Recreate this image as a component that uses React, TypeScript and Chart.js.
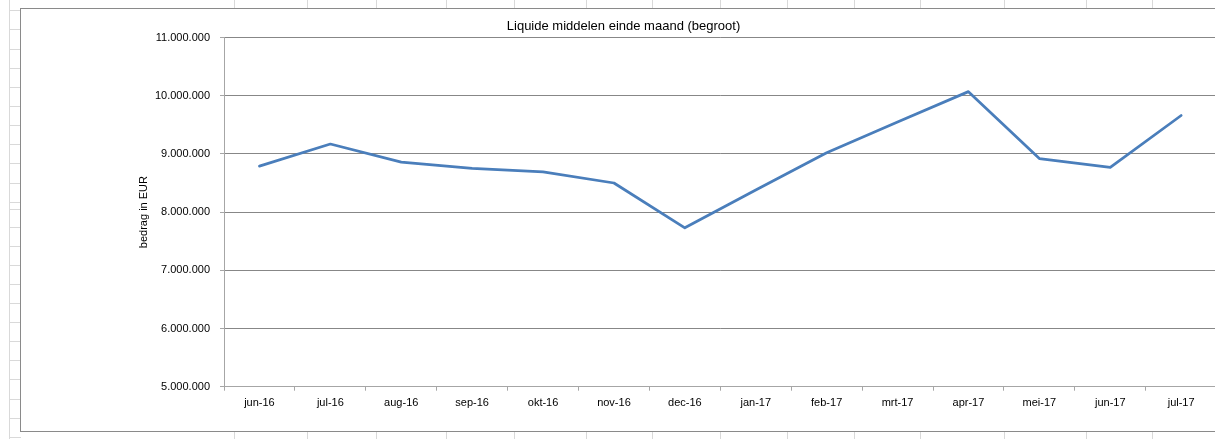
import React, { useEffect, useRef } from "react";
import { Chart, registerables } from "chart.js";

Chart.register(...registerables);

const categories = [
  "jun-16", "jul-16", "aug-16", "sep-16", "okt-16", "nov-16", "dec-16",
  "jan-17", "feb-17", "mrt-17", "apr-17", "mei-17", "jun-17", "jul-17",
];
const liquideMiddelen = [
  8790000, 9170000, 8860000, 8750000, 8690000, 8500000, 7730000,
  8380000, 9020000, 9550000, 10070000, 8920000, 8770000, 9660000,
];
const yMin = 5000000;
const yMax = 11000000;
const yStep = 1000000;
const chartTitle = "Liquide middelen einde maand (begroot)";
const yAxisTitle = "bedrag in EUR";

// spreadsheet background decoration
const sheetCols = [234, 307, 376, 446, 514, 586, 652, 720, 787, 854, 920, 1004, 1086, 1152];
const sheetRows = [10, 29, 49, 68, 87, 106, 125, 144, 163, 183, 202, 209, 227, 246, 265, 284, 303, 322, 341, 360, 379, 399, 418, 437];

function fmtNl(v: number): string {
  return String(Math.round(v)).replace(/\B(?=(\d{3})+(?!\d))/g, ".");
}

const FONT = "'Liberation Sans', Arial, sans-serif";

export default function App() {
  const ref = useRef<HTMLCanvasElement | null>(null);

  useEffect(() => {
    if (!ref.current) return;
    const chart = new Chart(ref.current, {
      type: "line",
      data: {
        labels: categories,
        datasets: [
          {
            label: chartTitle,
            data: liquideMiddelen,
            borderColor: "#4A7EBB",
            backgroundColor: "#4A7EBB",
            borderWidth: 2.75,
            pointRadius: 0,
            pointHoverRadius: 0,
            tension: 0,
            borderJoinStyle: "round",
            borderCapStyle: "round",
          },
        ],
      },
      options: {
        responsive: false,
        animation: false,
        devicePixelRatio: 1,
        layout: { padding: { left: 9.4, right: 9.4, top: 0, bottom: 0 } },
        plugins: {
          legend: { display: false },
          tooltip: { enabled: false },
          title: {
            display: true,
            text: chartTitle,
            color: "#000",
            font: { family: FONT, size: 13, weight: "normal", lineHeight: 1.2 },
            padding: { top: 9.9, bottom: 3.0 },
          },
        },
        scales: {
          x: {
            type: "category",
            offset: true,
            afterFit: (s: any) => {
              s.height = 44.3;
            },
            grid: {
              offset: true,
              drawOnChartArea: false,
              drawTicks: true,
              tickLength: 4,
              tickColor: "#A6A6A6",
              color: "#A6A6A6",
            },
            border: { display: true, color: "#A6A6A6", width: 1 },
            ticks: {
              color: "#000",
              font: { family: FONT, size: 11 },
              padding: 5.2,
              maxRotation: 0,
              autoSkip: false,
            },
          },
          y: {
            min: yMin,
            max: yMax,
            afterFit: (s: any) => {
              s.width = 193.6;
            },
            grid: {
              color: "#878787",
              lineWidth: 1,
              drawTicks: true,
              tickLength: 4,
              tickColor: "#A6A6A6",
            },
            border: { display: true, color: "#A6A6A6", width: 1 },
            ticks: {
              stepSize: yStep,
              color: "#000",
              font: { family: FONT, size: 11 },
              padding: 10,
              callback: (v: any) => fmtNl(Number(v)),
            },
            title: {
              display: true,
              text: yAxisTitle,
              color: "#000",
              font: { family: FONT, size: 11, lineHeight: 1.2 },
              padding: { top: 107, bottom: 0 },
            },
          },
        },
      },
    });
    return () => chart.destroy();
  }, []);

  return (
    <div
      style={{
        position: "fixed",
        left: 0,
        top: 0,
        width: 1215,
        height: 439,
        overflow: "hidden",
        background: "#fff",
      }}
    >
      {sheetCols.map((x) => (
        <div
          key={"c" + x}
          style={{ position: "absolute", left: x, top: 0, width: 1, height: 439, background: "#D9D9D9" }}
        />
      ))}
      <div style={{ position: "absolute", left: 9, top: 0, width: 1, height: 439, background: "#D9D9D9" }} />
      {sheetRows.map((y) => (
        <div
          key={"r" + y}
          style={{ position: "absolute", left: 9, top: y, width: 12, height: 1, background: "#D9D9D9" }}
        />
      ))}
      <div
        style={{
          position: "absolute",
          left: 20,
          top: 8,
          width: 1230,
          height: 424,
          boxSizing: "border-box",
          border: "1px solid #8A8A8A",
          background: "#fff",
        }}
      >
        <canvas
          ref={ref}
          width={1205}
          height={422}
          style={{ position: "absolute", left: 0, top: 0, width: 1205, height: 422 }}
        />
      </div>
    </div>
  );
}
